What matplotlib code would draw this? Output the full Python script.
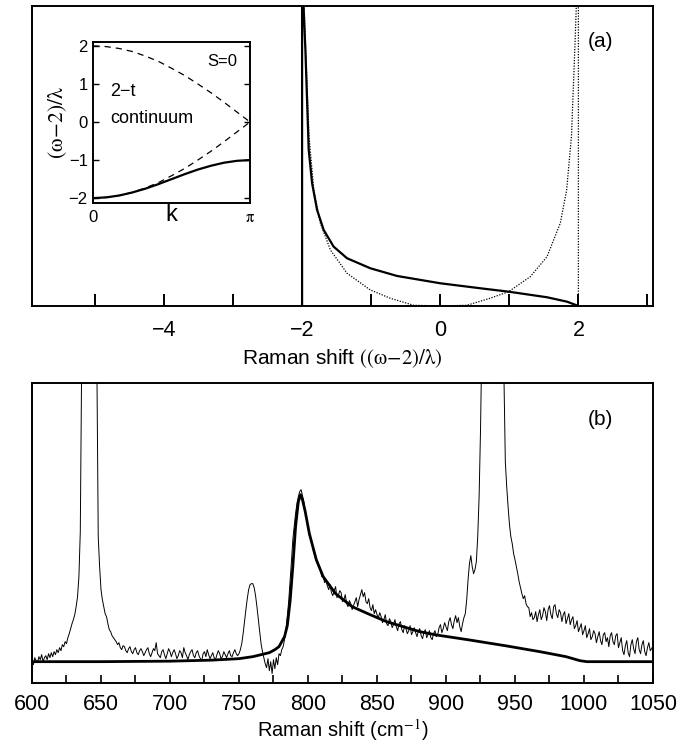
import numpy as np
import matplotlib.pyplot as plt

plt.rcParams['font.family'] = ['Liberation Sans', 'DejaVu Sans']
plt.rcParams['mathtext.fontset'] = 'stix'

# panel (a): calculated line shapes, x in (w-2)/lambda, y in arbitrary units
a_solid_x = [-2.0, -2.0, -1.985, -1.977, -1.952, -1.928, -1.904, -1.855, -1.783, -1.687,
             -1.543, -1.349, -1.012, -0.625, 0.0, 0.58, 0.99, 1.546, 1.835, 2.0]
a_solid_y = [0, 330, 330, 296, 256, 206, 156, 122.7, 96, 76,
             59.3, 47.7, 37.7, 30, 22.7, 17.7, 14.3, 8.7, 4.3, 0]
a_dot_x = [-1.97, -1.95, -1.90, -1.83, -1.735, -1.59, -1.349, -1.012, -0.722, -0.385, 0.0,
           0.385, 0.722, 0.99, 1.304, 1.546, 1.738, 1.83, 1.90, 1.95, 1.97, 2.0, 2.0]
a_dot_y = [300, 260, 170, 116, 82.7, 56, 32.7, 16, 7.7, 0.7, 0,
           0.7, 7.7, 14.3, 29.3, 49.3, 82.7, 116, 170, 260, 300, 330, 0]

# inset: dispersion of the S=0 two-triplon continuum and bound state
k_vals = np.linspace(0, np.pi, 13)
upper_edge = [2.00, 1.98, 1.93, 1.85, 1.73, 1.59, 1.41, 1.22, 1.00, 0.77, 0.52, 0.26, 0.00]
lower_edge = [-2.00, -1.98, -1.93, -1.85, -1.73, -1.59, -1.41, -1.22, -1.00, -0.77, -0.52, -0.26, 0.00]
bound_state = [-2.00, -1.98, -1.93, -1.85, -1.75, -1.63, -1.50, -1.37, -1.25, -1.15, -1.07, -1.02, -1.00]

# panel (b): measured Raman spectrum, one value per cm^-1 from 600 to 1050
spec_x = np.arange(600, 1051, 1)
spec_y = [
    2, -3, 4, 1, -1, 5, 2, 7, 0, 4,               # 600
    6, 2, 8, 4, 9, 5, 10, 7, 12, 9,               # 610
    14, 11, 17, 15, 20, 18, 24, 28, 33, 38,       # 620
    42, 47, 55, 65, 85, 130, 300, 700, 1100, 1400,  # 630
    1500, 1500, 1400, 1200, 900, 600, 400, 300, 125, 95,  # 640
    72, 62, 55, 48, 45, 38, 32, 30, 26, 24,       # 650
    22, 20, 17, 19, 14, 12, 16, 15, 11, 9,        # 660
    13, 15, 10, 8, 12, 14, 9, 7, 11, 13,          # 670
    10, 6, 9, 12, 14, 8, 5, 9, 13, 11,            # 680
    19, 8, 6, 4, 10, 12, 7, 3, 8, 13,             # 690
    10, 5, 9, 12, 8, 3, 6, 11, 9, 4,              # 700
    14, 9, 6, 2, 7, 10, 12, 6, 4, 9,              # 710
    11, 6, 3, 1, 8, 10, 5, 12, 7, 3,              # 720
    6, 9, 4, 2, 7, 11, 8, 3, 5, 10,               # 730
    7, 4, 8, 11, 6, 5, 9, 12, 8, 6,               # 740
    8, 12, 18, 28, 40, 52, 63, 72, 77, 78,        # 750
    78, 74, 66, 55, 42, 30, 18, 10, 4, -2,        # 760
    -6, 3, -9, 0, -12, 2, -7, 4, -3, 8,           # 770
    6, 12, 15, 22, 32, 45, 60, 80, 100, 122,      # 780
    135, 148, 158, 165, 170, 172, 166, 160, 150, 142,  # 790
    134, 126, 124, 118, 110, 107, 104, 97, 95, 92,  # 800
    85, 86, 79, 81, 76, 72, 77, 69, 66, 71,       # 810
    75, 64, 66, 71, 69, 60, 62, 67, 58, 55,       # 820
    61, 58, 52, 56, 60, 64, 55, 62, 67, 72,       # 830
    65, 69, 60, 58, 63, 54, 51, 57, 48, 52,       # 840
    47, 44, 49, 45, 39, 42, 47, 38, 36, 43,       # 850
    40, 34, 37, 42, 35, 31, 38, 40, 32, 29,       # 860
    36, 33, 28, 31, 36, 27, 30, 34, 29, 25,       # 870
    31, 33, 26, 23, 29, 32, 24, 27, 31, 24,       # 880
    22, 28, 31, 25, 27, 34, 37, 29, 33, 39,       # 890
    35, 31, 40, 44, 37, 33, 41, 46, 39, 44,       # 900
    35, 30, 38, 44, 48, 62, 82, 98, 106, 95,      # 910
    88, 92, 100, 125, 165, 230, 320, 600, 900, 1100,  # 920
    1200, 1250, 1250, 1200, 1150, 1050, 900, 800, 650, 500,  # 930
    400, 330, 285, 200, 175, 155, 137, 125, 118, 108,  # 940
    102, 95, 88, 80, 74, 68, 63, 66, 58, 55,      # 950
    54, 45, 49, 42, 44, 50, 40, 47, 52, 42,       # 960
    46, 54, 50, 41, 52, 56, 47, 43, 55, 57,       # 970
    48, 44, 52, 49, 40, 47, 50, 38, 43, 48,       # 980
    37, 42, 45, 33, 36, 41, 30, 34, 38, 27,       # 990
    31, 36, 24, 28, 33, 22, 25, 31, 28, 19,       # 1000
    25, 30, 21, 17, 27, 29, 20, 24, 15, 26,       # 1010
    29, 20, 17, 26, 28, 14, 19, 24, 11, 7,        # 1020
    16, 21, 9, 5, 17, 22, 13, 8, 20, 24,          # 1030
    12, 8, 17, 21, 10, 6, 14, 19, 11, 13,         # 1040
    16,                                           # 1050
]
# calculated line shape (thick curve)
fit_x = [600, 650, 700, 730, 750, 760, 766, 772, 776, 779, 783, 785, 787, 789, 791, 793,
         794.6, 796, 798, 801, 806, 811, 820, 832, 845, 857, 869, 881, 893, 917, 944, 968,
         987, 997, 1002, 1050]
fit_y = [0, 0, 0.5, 1.5, 3, 5, 7, 9, 12, 15, 25, 36, 60, 95, 135, 160,
         167, 162, 150, 128, 102, 85, 68, 55, 47, 40, 35, 30, 26.7, 21.7, 15.7, 10,
         5, 1, 0, 0]

fig = plt.figure(figsize=(6.94, 7.43), dpi=100)
ax1 = fig.add_axes([0.0461, 0.5882, 0.8948, 0.4038])
ax2 = fig.add_axes([0.0461, 0.0804, 0.8948, 0.4038])
ins = fig.add_axes([0.1345, 0.7272, 0.2258, 0.2167])

# (a)
ax1.plot(a_solid_x, a_solid_y, color='black', lw=1.6)
ax1.plot(a_dot_x, a_dot_y, color='black', lw=0.9, ls=(0, (1, 1.2)))
ax1.set_xlim(-5.91, 3.08)
ax1.set_ylim(0, 300)
ax1.set_xticks(range(-5, 4))
ax1.set_xticklabels(['', '\u22124', '', '\u22122', '', '0', '', '2', ''])
ax1.set_yticks([])
ax1.tick_params(axis='x', direction='in', length=9, width=1.4, labelsize=15.5, pad=10)
ax1.set_xlabel('Raman shift $\\mathrm{((\\omega\\!-\\!2)/\\lambda)}$', fontsize=15, labelpad=5)
ax1.text(0.915, 0.88, '(a)', transform=ax1.transAxes, ha='center', va='center', fontsize=15)

# inset
ins.plot(k_vals, upper_edge, color='black', lw=0.9, ls=(0, (5, 4)))
ins.plot(k_vals, lower_edge, color='black', lw=0.9, ls=(0, (5, 4)))
ins.plot(k_vals, bound_state, color='black', lw=1.6)
ins.set_xlim(0, np.pi)
ins.set_ylim(-2.12, 2.11)
ins.set_yticks([-2, -1, 0, 1, 2])
ins.set_yticklabels(['\u22122', '\u22121', '0', '1', '2'])
ins.set_xticks([0, np.pi])
ins.set_xticklabels(['0', '$\\mathrm{\\pi}$'])
ins.tick_params(axis='y', direction='in', length=4, width=1.0, labelsize=12, left=True, right=True, pad=4)
ins.tick_params(axis='x', length=0, labelsize=12, pad=5)
ins.set_ylabel('$\\mathrm{(\\omega\\!-\\!2)/\\lambda}$', fontsize=15.5, labelpad=0)
ins.text(0.5, -0.075, 'k', transform=ins.transAxes, ha='center', va='center', fontsize=17)
ins.text(0.82, 0.874, 'S=0', transform=ins.transAxes, ha='center', va='center', fontsize=12)
ins.text(0.107, 0.688, '2\u2212t', transform=ins.transAxes, ha='left', va='center', fontsize=13)
ins.text(0.107, 0.526, 'continuum', transform=ins.transAxes, ha='left', va='center', fontsize=13)

# (b)
ax2.plot(spec_x, spec_y, color='black', lw=0.7)
ax2.plot(fit_x, fit_y, color='black', lw=2.0)
ax2.set_xlim(600, 1050)
ax2.set_ylim(-21.6, 278.4)
ax2.set_xticks(range(600, 1051, 25))
ax2.set_xticklabels([str(v) if v % 50 == 0 else '' for v in range(600, 1051, 25)])
ax2.set_yticks([])
ax2.tick_params(axis='x', direction='in', length=6, width=1.2, labelsize=15.5, pad=8)
ax2.set_xlabel('Raman shift (cm$^{-1}$)', fontsize=14.5, labelpad=1)
ax2.text(0.916, 0.878, '(b)', transform=ax2.transAxes, ha='center', va='center', fontsize=15)

for ax in (ax1, ax2, ins):
    for sp in ax.spines.values():
        sp.set_linewidth(1.4)

fig.savefig('out.png', dpi=100)
